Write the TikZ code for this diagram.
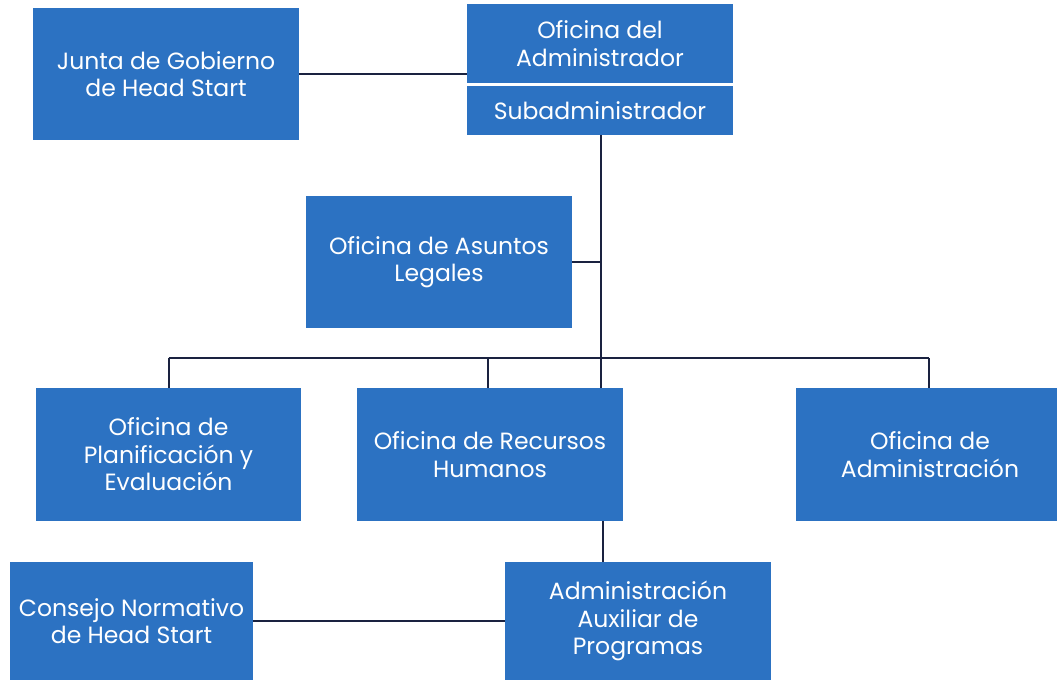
\documentclass[tikz,border=0pt]{standalone}
\usepackage{fontspec}
\setmainfont{Poppins}
\definecolor{boxblue}{RGB}{44,114,194}
\definecolor{linenavy}{RGB}{26,34,64}
\begin{document}
\begin{tikzpicture}[x=1pt,y=-1pt,
  orgbox/.style={fill=boxblue, text=white, inner sep=0pt, align=center,
    minimum width=266pt, minimum height=132pt, font=\fontsize{23.5}{27.5}\selectfont},
  conn/.style={draw=linenavy, line width=2pt}]
\clip (0,0) rectangle (1057,680);
\fill[white] (0,0) rectangle (1057,680);
\node[orgbox] (junta) at (166,74) {Junta de Gobierno\\de Head Start};
\node[orgbox, minimum height=79pt] (admin) at (600,43.5) {Oficina del\\Administrador};
\node[orgbox, minimum height=49pt] (sub) at (600,110.5) {Subadministrador};
\node[orgbox] (legal) at (439,262) {Oficina de Asuntos\\Legales};
\node[orgbox, minimum width=265pt, minimum height=133pt] (plan) at (168.5,454.5) {Oficina de\\Planificación y\\Evaluación};
\node[orgbox, minimum height=133pt] (rh) at (490,454.5) {Oficina de Recursos\\Humanos};
\node[orgbox, minimum width=268pt, minimum height=133pt] (adm) at (930,454.5) {Oficina de\\Administración};
\node[orgbox, minimum width=243pt, minimum height=118pt] (consejo) at (131.5,621) {Consejo Normativo\\de Head Start};
\node[orgbox, minimum height=118pt] (aux) at (638,621) {Administración\\Auxiliar de\\Programas};
\coordinate (bus) at (601,358);
\draw[conn] (junta.east) -- (junta.east -| admin.west);
\draw[conn] (sub.south -| bus) -- (rh.north -| bus);
\draw[conn] (legal.east) -- (legal.east -| bus);
\draw[conn] (bus -| plan.north) -- (bus -| 929,0);
\draw[conn] (bus -| plan.north) -- (plan.north);
\draw[conn] (bus -| 488,0) -- (rh.north -| 488,0);
\draw[conn] (bus -| 929,0) -- (adm.north -| 929,0);
\draw[conn] (rh.south -| 603,0) -- (aux.north -| 603,0);
\draw[conn] (consejo.east) -- (consejo.east -| aux.west);
\end{tikzpicture}
\end{document}
